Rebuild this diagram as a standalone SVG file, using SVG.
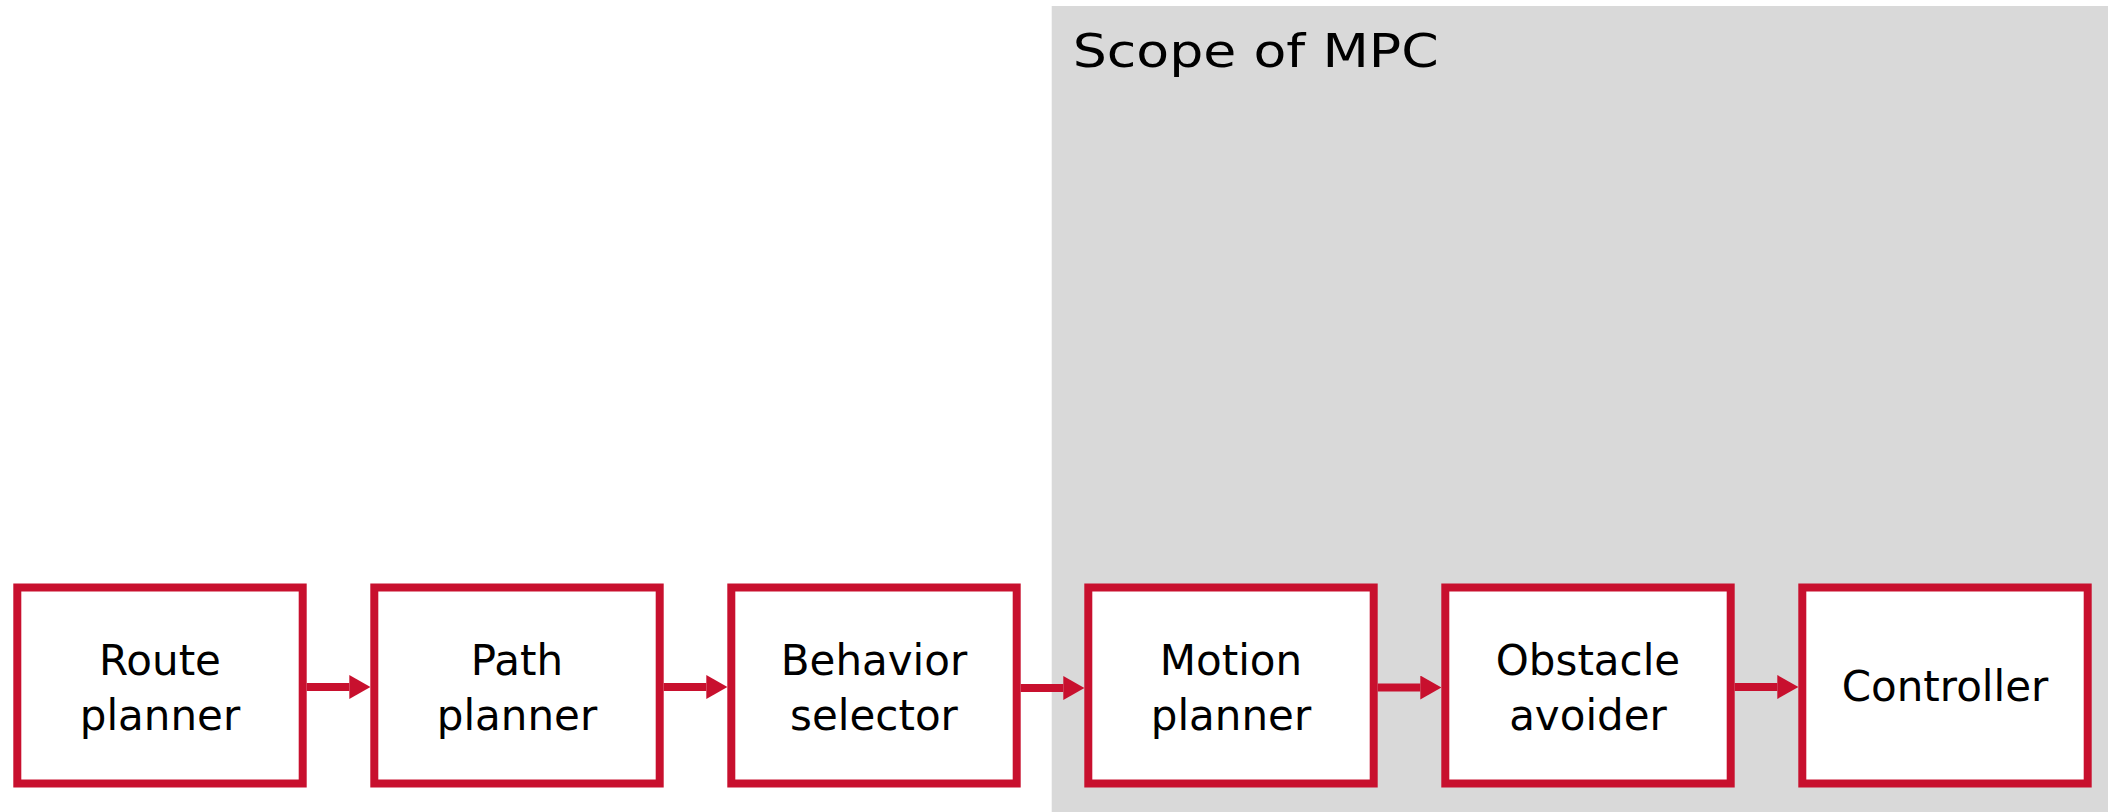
<svg xmlns="http://www.w3.org/2000/svg" width="2108" height="812" viewBox="0 0 2108 812">
  <style>
    .box { fill: #ffffff; stroke: #c8102e; stroke-width: 8; }
    .lbl { font-family: "DejaVu Sans", "Liberation Sans", sans-serif; font-size: 42px; fill: #000000; text-anchor: middle; }
    .link { stroke: #c8102e; stroke-width: 8; fill: none; marker-end: url(#head); }
    .title { font-family: "DejaVu Sans", "Liberation Sans", sans-serif; font-size: 46px; fill: #000000; }
  </style>
  <defs>
    <marker id="head" viewBox="0 0 21 24" refX="0" refY="12" markerWidth="21" markerHeight="24" markerUnits="userSpaceOnUse" orient="auto">
      <path d="M0,0 L21,12 L0,24 Z" fill="#c8102e"/>
    </marker>
  </defs>

  <rect width="2108" height="812" fill="#ffffff"/>

  <!-- MPC scope region -->
  <g id="scope">
    <rect x="1051.7" y="6" width="1056.3" height="806" fill="#d9d9d9"/>
    <text class="title" x="1072.7" y="66.7" textLength="366" lengthAdjust="spacingAndGlyphs">Scope of MPC</text>
  </g>

  <!-- connectors -->
  <g id="connectors">
    <path class="link" d="M306.7,687 H349.3"/>
    <path class="link" d="M663.7,687 H706.3"/>
    <path class="link" d="M1020.7,688 H1063.3"/>
    <path class="link" d="M1377.7,687.5 H1420.3"/>
    <path class="link" d="M1734.7,687 H1777.3"/>
  </g>

  <g id="route-planner">
    <rect class="box" x="17.3" y="587.5" width="285.4" height="196"/>
    <text class="lbl" x="160" y="675">Route</text>
    <text class="lbl" x="160" y="730">planner</text>
  </g>

  <g id="path-planner">
    <rect class="box" x="374.3" y="587.5" width="285.4" height="196"/>
    <text class="lbl" x="517" y="675">Path</text>
    <text class="lbl" x="517" y="730">planner</text>
  </g>

  <g id="behavior-selector">
    <rect class="box" x="731.3" y="587.5" width="285.4" height="196"/>
    <text class="lbl" x="874" y="675">Behavior</text>
    <text class="lbl" x="874" y="730">selector</text>
  </g>

  <g id="motion-planner">
    <rect class="box" x="1088.3" y="587.5" width="285.4" height="196"/>
    <text class="lbl" x="1231" y="675">Motion</text>
    <text class="lbl" x="1231" y="730">planner</text>
  </g>

  <g id="obstacle-avoider">
    <rect class="box" x="1445.3" y="587.5" width="285.4" height="196"/>
    <text class="lbl" x="1588" y="675">Obstacle</text>
    <text class="lbl" x="1588" y="730">avoider</text>
  </g>

  <g id="controller">
    <rect class="box" x="1802.3" y="587.5" width="285.4" height="196"/>
    <text class="lbl" x="1945" y="701">Controller</text>
  </g>
</svg>
